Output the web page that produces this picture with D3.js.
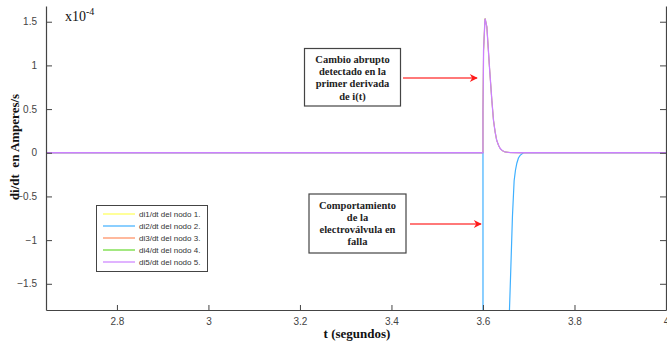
<!DOCTYPE html>
<html>
<head>
<meta charset="utf-8">
<script src="https://cdn.jsdelivr.net/npm/d3@7"></script>
<style>
  html, body { margin: 0; padding: 0; background: #fff; }
  svg { display: block; }
</style>
</head>
<body>
<svg id="chart" width="667" height="347"></svg>
<script>
// Time samples (s) and derivative values (x10^-4 A/s) per node
const tNodo5 = [2.645, 3.6, 3.6, 3.6013, 3.6041, 3.6048, 3.6085, 3.6142, 3.6194, 3.623, 3.6265, 3.630, 3.634, 3.6376, 3.642, 3.648, 3.66, 3.681, 4];
const vNodo5 = [0, 0, 0.486, 1.173, 1.50, 1.535, 1.44, 0.98, 0.60, 0.372, 0.24, 0.143, 0.085, 0.048, 0.025, 0.009, 0.002, 0, 0];
// Nodes 1, 3 and 4 follow node 5 and lie underneath it
const tNodo1 = tNodo5, vNodo1 = vNodo5;
const tNodo3 = tNodo5, vNodo3 = vNodo5;
const tNodo4 = tNodo5, vNodo4 = vNodo5;
const tNodo2 = [2.645, 3.6, 3.6001, 3.657, 3.6579, 3.661, 3.6644, 3.6681, 3.671, 3.674, 3.6775, 3.6812, 3.6884, 4];
const vNodo2 = [0, 0, -4, -4, -1.8, -1.30, -0.73, -0.32, -0.2, -0.12, -0.06, -0.03, 0, 0];

const seriesNames = ["di1/dt del nodo 1.", "di2/dt del nodo 2.", "di3/dt del nodo 3.", "di4/dt del nodo 4.", "di5/dt del nodo 5."];
const seriesColors = ["#ffff55", "#3fb0ff", "#ff8a5c", "#66d92e", "#cc80ff"];
const seriesT = [tNodo1, tNodo2, tNodo3, tNodo4, tNodo5];
const seriesV = [vNodo1, vNodo2, vNodo3, vNodo4, vNodo5];
const seriesW = [0.6, 1.2, 0.6, 0.6, 1.3];

const xTicks = [2.8, 3, 3.2, 3.4, 3.6, 3.8, 4];
const yTicks = [-1.5, -1, -0.5, 0, 0.5, 1, 1.5];

const svg = d3.select("#chart");
const L = 46, R = 666, T = 6, B = 310;
const x = d3.scaleLinear().domain([2.645, 4]).range([L, R]);
const y = d3.scaleLinear().domain([-1.8, 1.68]).range([B, T]);

svg.append("defs").append("clipPath").attr("id", "plot")
  .append("rect").attr("x", L).attr("y", T).attr("width", R - L).attr("height", B - T);

// Series lines
const line = d3.line().x(d => x(d[0])).y(d => y(d[1]));
const g = svg.append("g").attr("clip-path", "url(#plot)");
seriesT.forEach((ts, i) => {
  const pts = ts.map((t, j) => [t, seriesV[i][j]]);
  g.append("path").attr("d", line(pts)).attr("fill", "none")
    .attr("stroke", seriesColors[i]).attr("stroke-width", seriesW[i]);
});

// Axes with inward ticks
const axisColor = "#444";
const tickFont = "'Liberation Sans', Arial, sans-serif";
const xAxis = svg.append("g").attr("transform", `translate(0,${B})`)
  .call(d3.axisBottom(x).tickValues(xTicks).tickSizeInner(-5).tickSizeOuter(0).tickPadding(8).tickFormat(d3.format("")));
const yAxis = svg.append("g").attr("transform", `translate(${L},0)`)
  .call(d3.axisLeft(y).tickValues(yTicks).tickSizeInner(-6).tickSizeOuter(0).tickPadding(9).tickFormat(d3.format("")));
const yAxisR = svg.append("g").attr("transform", `translate(${R},0)`)
  .call(d3.axisRight(y).tickValues(yTicks).tickSizeInner(-6).tickSizeOuter(0).tickFormat(""));
[xAxis, yAxis, yAxisR].forEach(a => {
  a.select(".domain").attr("stroke", axisColor).attr("stroke-width", 1.2);
  a.selectAll(".tick line").attr("stroke", axisColor);
  a.selectAll(".tick text").attr("fill", "#444").style("font-family", tickFont).style("font-size", "10px");
});

// Axis titles
const serif = "'Liberation Serif', 'Times New Roman', serif";
svg.append("text").attr("x", 357).attr("y", 338).attr("text-anchor", "middle")
  .style("font-family", serif).style("font-weight", "bold").style("font-size", "13px").attr("fill", "#111")
  .text("t (segundos)");
svg.append("text").attr("transform", "translate(19,147) rotate(-90)").attr("text-anchor", "middle")
  .style("font-family", serif).style("font-weight", "bold").style("font-size", "13px").attr("fill", "#111")
  .attr("xml:space", "preserve").text("di/dt  en Amperes/s");

// Exponent marker
const ex = svg.append("text").attr("x", 65).attr("y", 21)
  .style("font-family", serif).style("font-size", "14px").attr("fill", "#111");
ex.append("tspan").text("x10");
ex.append("tspan").attr("dy", -6).style("font-size", "10px").text("-4");

// Legend
const lg = svg.append("g");
lg.append("rect").attr("x", 96.5).attr("y", 205.5).attr("width", 111).attr("height", 66)
  .attr("fill", "#fff").attr("stroke", "#444").attr("stroke-width", 1);
seriesNames.forEach((n, i) => {
  const yy = 214 + i * 12;
  lg.append("line").attr("x1", 103).attr("x2", 135).attr("y1", yy).attr("y2", yy)
    .attr("stroke", seriesColors[i]).attr("stroke-width", 1.2);
  lg.append("text").attr("x", 139).attr("y", yy + 3).text(n)
    .style("font-family", tickFont).style("font-size", "8px").attr("fill", "#333");
});

// Annotations with arrows
const defs = svg.select("defs");
defs.append("marker").attr("id", "head").attr("viewBox", "0 0 10 10").attr("refX", 9).attr("refY", 5)
  .attr("markerWidth", 10).attr("markerHeight", 8).attr("markerUnits", "userSpaceOnUse").attr("orient", "auto")
  .append("path").attr("d", "M0,0 L10,5 L0,10 L3,5 Z").attr("fill", "#ff1a1a");

function note(bx, by, bw, bh, lines, ax1, ax2, ay) {
  svg.append("rect").attr("x", bx).attr("y", by).attr("width", bw).attr("height", bh)
    .attr("fill", "#fff").attr("stroke", "#444").attr("stroke-width", 1.2);
  lines.forEach((s, i) => {
    svg.append("text").attr("x", bx + bw / 2).attr("y", by + 14.5 + i * 12.2).attr("text-anchor", "middle")
      .style("font-family", serif).style("font-weight", "bold").style("font-size", "10.5px").attr("fill", "#222")
      .text(s);
  });
  svg.append("line").attr("x1", ax1).attr("x2", ax2).attr("y1", ay).attr("y2", ay)
    .attr("stroke", "#ff4d4d").attr("stroke-width", 1.4).attr("marker-end", "url(#head)");
}
note(304.5, 48.5, 96, 57.5, ["Cambio abrupto", "detectado en la", "primer derivada", "de i(t)"], 403, 477, 78);
note(309, 194, 97, 59, ["Comportamiento", "de la", "electroválvula en", "falla"], 410, 481, 224);
</script>
</body>
</html>
